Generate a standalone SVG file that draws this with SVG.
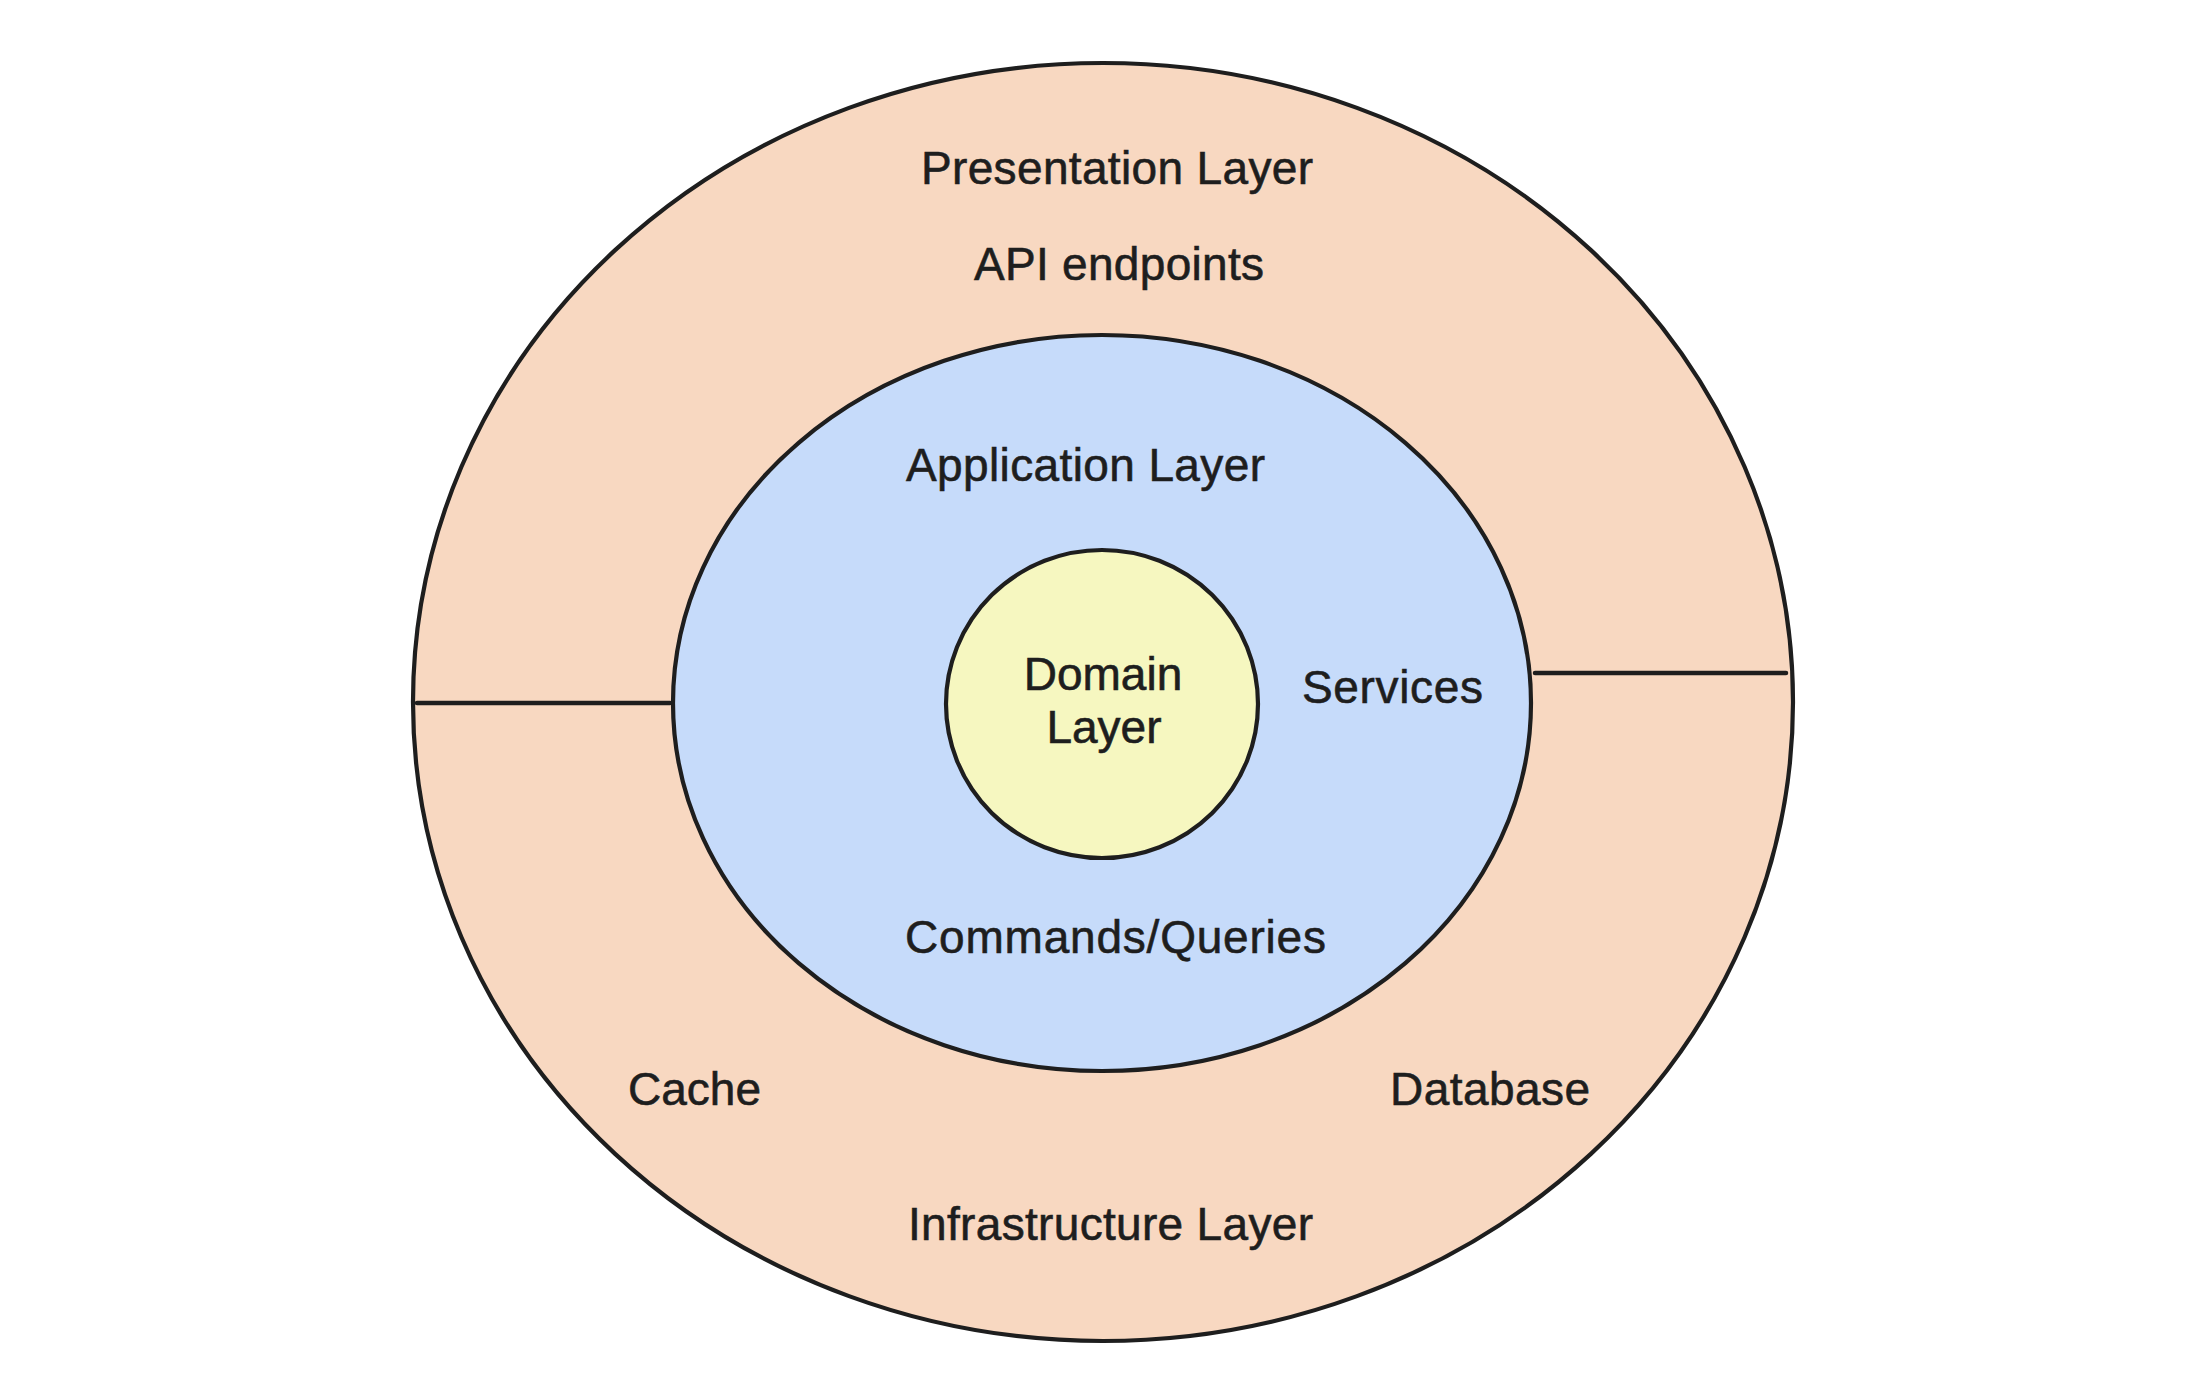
<svg xmlns="http://www.w3.org/2000/svg" width="2209" height="1399" viewBox="0 0 2209 1399">
  <style>
    .shape { stroke: #1e1e1e; stroke-width: 4.2; }
    .outer { fill: #f8d8c1; }
    .app { fill: #c6dbfa; }
    .domain { fill: #f6f7c0; }
    .conn { stroke: #1e1e1e; stroke-width: 4.5; stroke-linecap: round; fill: none; }
    .lbl { font-family: "Liberation Sans", Arial, sans-serif; font-size: 46px; fill: #1e1e1e; stroke: #1e1e1e; stroke-width: 0.6; }
  </style>
  <rect width="2209" height="1399" fill="#ffffff"/>
  <g id="presentation-infrastructure">
    <ellipse class="shape outer" cx="1103" cy="702" rx="690" ry="639"/>
    <text class="lbl" x="921" y="184" textLength="392">Presentation Layer</text>
    <text class="lbl" x="974" y="280" textLength="290">API endpoints</text>
    <text class="lbl" x="628" y="1105" textLength="133">Cache</text>
    <text class="lbl" x="1390" y="1105" textLength="200">Database</text>
    <text class="lbl" x="908" y="1240" textLength="405">Infrastructure Layer</text>
  </g>
  <g id="application">
    <ellipse class="shape app" cx="1102" cy="703" rx="429" ry="368"/>
    <text class="lbl" x="906" y="481" textLength="359">Application Layer</text>
    <text class="lbl" x="1302" y="703" textLength="181">Services</text>
    <text class="lbl" x="905" y="953" textLength="421">Commands/Queries</text>
  </g>
  <g id="domain">
    <ellipse class="shape domain" cx="1102" cy="704" rx="156" ry="154"/>
    <text class="lbl" x="1103" y="690" text-anchor="middle">Domain</text>
    <text class="lbl" x="1104" y="743" text-anchor="middle">Layer</text>
  </g>
  <g id="connectors">
    <line class="conn" x1="417" y1="703" x2="670" y2="703"/>
    <line class="conn" x1="1535" y1="673" x2="1786" y2="673"/>
  </g>
</svg>
